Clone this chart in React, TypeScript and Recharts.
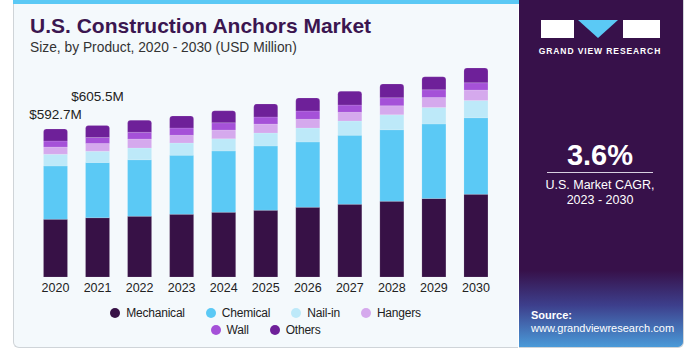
import { BarChart, Bar, XAxis, YAxis, LabelList } from 'recharts';

const years = ['2020', '2021', '2022', '2023', '2024', '2025', '2026', '2027', '2028', '2029', '2030'];
const mechanical = [231, 237, 243, 251, 259, 267, 279, 291, 303, 314, 331];
const chemical = [213, 221, 226, 236, 245, 257, 261, 276, 286, 298, 306];
const nailIn = [47, 45, 47, 49, 49, 52, 56, 57, 60, 66, 69];
const hangers = [29, 31, 36, 31, 35, 36, 35, 35, 36, 40, 42];
const wall = [24, 24, 27, 29, 29, 28, 33, 29, 32, 31, 29];
const others = [48, 48, 48, 48, 48, 52, 52, 55, 55, 52, 59];
const totalLabels = ['$592.7M', '$605.5M'];

const series = [
  { key: 'mechanical', name: 'Mechanical', color: '#371146' },
  { key: 'chemical', name: 'Chemical', color: '#5bc9f5' },
  { key: 'nailIn', name: 'Nail-in', color: '#bde9f9' },
  { key: 'hangers', name: 'Hangers', color: '#d5a9ed' },
  { key: 'wall', name: 'Wall', color: '#a551d8' },
  { key: 'others', name: 'Others', color: '#6e2099' },
];

const data = years.map((year, i) => ({
  year,
  mechanical: mechanical[i],
  chemical: chemical[i],
  nailIn: nailIn[i],
  hangers: hangers[i],
  wall: wall[i],
  others: others[i],
}));

const font = '"Liberation Sans", Arial, sans-serif';

// staggered value labels above the first two bars
const labelLift = [15, 29];

function TotalLabel(props: any) {
  const { x, y, width, index } = props;
  if (index >= totalLabels.length) return null;
  return (
    <text x={x + width / 2} y={y - labelLift[index]} textAnchor="middle" dominantBaseline="central" fontSize={13.5} fill="#222" fontFamily={font}>
      {totalLabels[index]}
    </text>
  );
}

function LegendRows() {
  const row1 = series.slice(0, 4);
  const row2 = series.slice(4);
  const item = (s: typeof series[number]) => (
    <span key={s.key} style={{ display: 'inline-flex', alignItems: 'center', margin: '0 10.5px' }}>
      <span style={{ width: 10, height: 10, borderRadius: 5, background: s.color, marginRight: 6 }} />
      <span>{s.name}</span>
    </span>
  );
  return (
    <div style={{ fontFamily: font, fontSize: 12, letterSpacing: -0.2, color: '#222', textAlign: 'center', lineHeight: '16px' }}>
      <div>{row1.map(item)}</div>
      <div>{row2.map(item)}</div>
    </div>
  );
}

export default function App() {
  return (
    <div style={{ position: 'absolute', left: 0, top: 0, width: 694, height: 354, background: '#fff', overflow: 'hidden', fontFamily: font }}>
      {/* left chart panel */}
      <div style={{ position: 'absolute', left: 13, top: 0, width: 505, height: 348, background: '#f4f9fc', borderLeft: '1px solid #cfd4d8', borderBottom: '1px solid #cfd4d8', borderBottomLeftRadius: 6, boxSizing: 'border-box' }} />
      <div style={{ position: 'absolute', left: 13, top: 0, width: 506, height: 4, background: '#5bc9f5' }} />
      <div style={{ position: 'absolute', left: 30, top: 14, fontSize: 21, fontWeight: 800, color: '#3b1650', whiteSpace: 'nowrap' }}>U.S. Construction Anchors Market</div>
      <div style={{ position: 'absolute', left: 30, top: 40, fontSize: 13.8, color: '#333', whiteSpace: 'nowrap' }}>Size, by Product, 2020 - 2030 (USD Million)</div>

      <div style={{ position: 'absolute', left: 0, top: 0 }}>
        <BarChart width={694} height={354} data={data} margin={{ top: 52, right: 197, bottom: 47, left: 34.5 }} barSize={24}>
          <XAxis dataKey="year" height={30} axisLine={false} tickLine={false} tickSize={4} interval={0} tick={{ fontSize: 12.5, fill: '#222', fontFamily: font }} />
          <YAxis hide domain={[0, 900]} />
          {series.map((s, i) => (
            <Bar key={s.key} dataKey={s.key} name={s.name} stackId="a" fill={s.color} stroke="#ffffff" strokeOpacity={0.25} strokeWidth={0.5} radius={i === series.length - 1 ? [3, 3, 0, 0] : 0} isAnimationActive={false}>
              {i === series.length - 1 && <LabelList dataKey="others" content={TotalLabel} />}
            </Bar>
          ))}
        </BarChart>
      </div>
      <div style={{ position: 'absolute', left: 13, width: 505, top: 305 }}>
        <LegendRows />
      </div>

      {/* right info panel */}
      <div style={{ position: 'absolute', left: 519, top: 0, width: 165, height: 348, borderBottomRightRadius: 6, background: 'linear-gradient(180deg, #37114a 0%, #37114a 78%, #3d3f8c 88%, #4a9ad8 100%)', borderRight: '1px solid #cfd4d8', borderBottom: '1px solid #cfd4d8', boxSizing: 'border-box' }} />
      <svg style={{ position: 'absolute', left: 0, top: 0 }} width={694} height={354}>
        <rect x={541} y={20} width={33} height={18} fill="#fff" />
        <polygon points="578,20 618,20 598,38" fill="#5bc9f5" />
        <rect x={623} y={20} width={37} height={18} fill="#fff" />
        <text x={600} y={54} textAnchor="middle" fontSize={8.5} fontWeight={700} fill="#fff" letterSpacing={0.9} fontFamily={font}>GRAND VIEW RESEARCH</text>
        <text x={600} y={165} textAnchor="middle" fontSize={29} fontWeight={700} fill="#fff" fontFamily={font}>3.6%</text>
        <line x1={547} x2={653} y1={172.5} y2={172.5} stroke="#d8d0e0" strokeWidth={1} />
        <text x={600} y={189} textAnchor="middle" fontSize={12.5} fill="#fff" fontFamily={font}>U.S. Market CAGR,</text>
        <text x={600} y={204} textAnchor="middle" fontSize={12.5} fill="#fff" fontFamily={font}>2023 - 2030</text>
        <text x={531} y={319} fontSize={11} fontWeight={700} fill="#fff" fontFamily={font}>Source:</text>
        <text x={531} y={332} fontSize={11} fill="#fff" fontFamily={font}>www.grandviewresearch.com</text>
      </svg>
    </div>
  );
}
